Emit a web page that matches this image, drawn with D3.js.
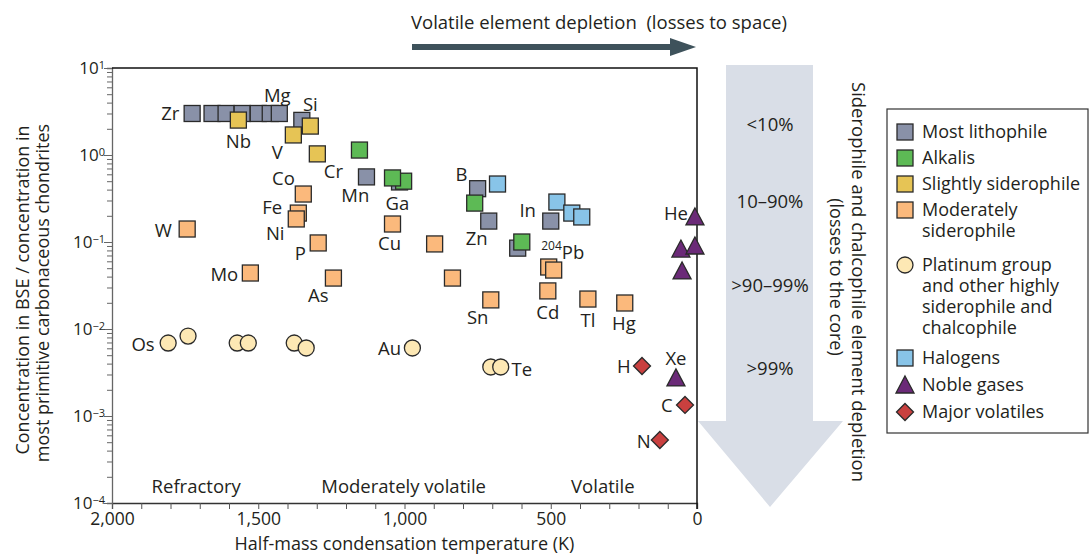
<!DOCTYPE html>
<html><head><meta charset="utf-8">
<script src="https://cdn.jsdelivr.net/npm/d3@7"></script>
<style>
body{margin:0;background:#fff}
svg{display:block}
text{font-family:"Open Sans",sans-serif;fill:#231f20}
</style>
</head><body>
<svg id="chart" width="1089" height="555"></svg>
<script>
// ---- data: [condensation temperature (K), concentration ratio] ----
const mostLithophile = [[1726,3.0],[1658,3.0],[1610,3.0],[1555,3.0],[1500,3.0],[1459,3.0],[1428,3.0],
  [1351,2.5],[1130,0.56],[1017,0.49],[750,0.41],[712,0.174],[613,0.085],[500,0.174]];
const alkalis = [[1154,1.14],[1003,0.50],[1041,0.545],[760,0.28],[599,0.10]];
const slightlySiderophile = [[1568,2.52],[1380,1.70],[1322,2.15],[1298,1.03]];
const moderatelySiderophile = [[1743,0.141],[1527,0.044],[1346,0.356],[1363,0.215],[1370,0.184],[1295,0.0975],
  [1243,0.0385],[1041,0.161],[897,0.095],[836,0.0385],[705,0.0216],[507,0.0516],[490,0.0476],[510,0.0274],
  [373,0.0221],[247,0.0199]];
const platinumGroup = [[1808,0.0069],[1740,0.0083],[1572,0.0069],[1534,0.0069],[1377,0.0069],[1336,0.00605],
  [973,0.00605],[705,0.00366],[671,0.00366]];
const halogens = [[682,0.464],[479,0.288],[428,0.215],[394,0.194]];
const nobleGases = [[7,0.194],[55,0.083],[7,0.090],[51,0.0465],[72,0.00274]];
const majorVolatiles = [[188,0.00376],[41,0.00134],[127,0.00053]];

// element labels: [text, T, C]
const elementLabels = [["Zr",1801,3.04],["Mg",1435,4.9],["Si",1322,3.96],["Nb",1568,1.45],["V",1435,1.11],
  ["Cr",1243,0.655],["Co",1414,0.545],["Fe",1452,0.259],["Ni",1442,0.130],["P",1356,0.0767],["W",1825,0.141],
  ["Mn",1168,0.347],["Mo",1616,0.0429],["As",1295,0.0252],["Os",1894,0.0069],["Au",1051,0.00621],
  ["Ga",1024,0.281],["Cu",1051,0.0975],["B",805,0.605],["Zn",753,0.114],["In",579,0.239],["204Pb",459,0.0832],
  ["Sn",750,0.0141],["Cd",510,0.0161],["Tl",373,0.0130],["Hg",250,0.0120],["Te",599,0.00356],
  ["H",250,0.00376],["Xe",72,0.00476],["C",103,0.00134],["N",182,0.000516],["He",72,0.221]];

const regionLabels = [["Refractory",1712],["Moderately volatile",1003],["Volatile",322]];
const xTickLabels = [2000,1500,1000,500,0];
const yDecades = [1,0,-1,-2,-3,-4];
const depletionLevels = ["<10%","10\u201390%",">90\u201399%",">99%"];

const legendEntries = [
  {lines:["Most lithophile"], color:"#8991a8", shape:"square"},
  {lines:["Alkalis"], color:"#5dba55", shape:"square"},
  {lines:["Slightly siderophile"], color:"#e6c455", shape:"square"},
  {lines:["Moderately","siderophile"], color:"#fbb97c", shape:"square"},
  {lines:["Platinum group","and other highly","siderophile and","chalcophile"], color:"#fde8b4", shape:"circle"},
  {lines:["Halogens"], color:"#88c4e8", shape:"square"},
  {lines:["Noble gases"], color:"#6b2a78", shape:"triangle"},
  {lines:["Major volatiles"], color:"#c9403f", shape:"diamond"}
];
const seriesData = [mostLithophile, alkalis, slightlySiderophile, moderatelySiderophile,
  platinumGroup, halogens, nobleGases, majorVolatiles];

// ---- layout ----
const svg = d3.select("#chart");
const L = 112, R = 697, T = 68, B = 503;
const x = d3.scaleLinear().domain([2000,0]).range([L,R]);
const y = d3.scaleLog().domain([1e-4,10]).range([B,T]);

// big depletion arrow
svg.append("polygon")
  .attr("points", [[726,65],[813,65],[813,421],[843,421],[770,507],[698,421],[726,421]].map(p=>p.join(",")).join(" "))
  .attr("fill","#d9dee7");
const lvY = [123,200,284,367];
svg.selectAll("text.lv").data(depletionLevels).join("text")
  .attr("x",770).attr("y",(d,i)=>lvY[i]).attr("text-anchor","middle").attr("dominant-baseline","central")
  .style("font-size","18.5px").text(d=>d);

// right vertical titles
svg.append("text").attr("transform","translate(859,282) rotate(90)")
  .attr("text-anchor","middle").attr("dominant-baseline","central").style("font-size","18.5px")
  .text("Siderophile and chalcophile element depletion");
svg.append("text").attr("transform","translate(837,277) rotate(90)")
  .attr("text-anchor","middle").attr("dominant-baseline","central").style("font-size","18px")
  .text("(losses to the core)");

// top arrow
svg.append("text").attr("x",411).attr("y",29).style("font-size","18.5px")
  .text("Volatile element depletion\u00a0\u00a0(losses to space)");
svg.append("line").attr("x1",412).attr("x2",676).attr("y1",47).attr("y2",47)
  .attr("stroke","#3e525b").attr("stroke-width",6);
svg.append("polygon").attr("points","670,38 696,47 670,56").attr("fill","#3e525b");

// x axis
const xAxis = d3.axisBottom(x).tickValues(d3.range(0,2001,100)).tickSize(6)
  .tickFormat(d => xTickLabels.includes(d) ? d3.format(",")(d) : "");
const gx = svg.append("g").attr("transform",`translate(0,${B})`).call(xAxis);
gx.select(".domain").attr("stroke","#333").attr("stroke-width",1.3);
gx.selectAll(".tick line").attr("stroke","#555");
gx.selectAll(".tick text").attr("y",8).attr("dy","0.8em").style("font-size","17.5px")
  .style("font-family","'Open Sans',sans-serif").attr("fill","#231f20");

// y axis
const yTicks = y.ticks();
const yAxis = d3.axisLeft(y).tickValues(yTicks).tickSize(5).tickFormat("");
const gy = svg.append("g").attr("transform",`translate(${L},0)`).call(yAxis);
gy.select(".domain").attr("stroke","#666").attr("stroke-width",1.3);
gy.selectAll(".tick line").attr("stroke","#666")
  .attr("x2", d => Math.abs(Math.log10(d) - Math.round(Math.log10(d))) < 1e-9 ? -8 : -5);
const yl = svg.selectAll("text.ytl").data(yDecades).join("text")
  .attr("x",105).attr("y",d=>y(Math.pow(10,d))+6).attr("text-anchor","end").style("font-size","17px");
yl.append("tspan").text("10");
yl.append("tspan").attr("dy","-0.5em").style("font-size","11px").text(d=>d<0?"\u2212"+(-d):d);

// frame (top / right)
svg.append("path").attr("d",`M${L},${T}H${R}V${B+6}`).attr("fill","none").attr("stroke","#111").attr("stroke-width",1.5);

// axis titles
svg.append("text").attr("x",(L+R)/2).attr("y",550).attr("text-anchor","middle").style("font-size","18px")
  .text("Half-mass condensation temperature (K)");
const yTitle = svg.append("text").attr("transform","translate(0,0) rotate(-90)").attr("text-anchor","middle")
  .style("font-size","18px");
yTitle.append("tspan").attr("x",-290).attr("y",29).text("Concentration in BSE / concentration in");
yTitle.append("tspan").attr("x",-293).attr("y",49).text("most primitive carbonaceous chondrites");

// region labels
svg.selectAll("text.rg").data(regionLabels).join("text")
  .attr("x",d=>x(d[1])).attr("y",485).attr("text-anchor","middle").attr("dominant-baseline","central")
  .style("font-size","18.5px").text(d=>d[0]);

// symbols
const S = 16;
function drawShape(g, shape, color){
  let el;
  if(shape==="square") el = g.append("rect").attr("x",-S/2).attr("y",-S/2).attr("width",S).attr("height",S);
  else if(shape==="circle") el = g.append("circle").attr("r",S/2);
  else if(shape==="triangle") el = g.append("path").attr("d",`M0,${-S/2-1}L${S/2+1},${S/2}L${-S/2-1},${S/2}Z`);
  else el = g.append("path").attr("d",`M0,-8.5L8.5,0L0,8.5L-8.5,0Z`);
  el.attr("fill",color).attr("stroke","#2a2a2a").attr("stroke-width",1.3);
}
seriesData.forEach((arr,i)=>{
  const e = legendEntries[i];
  svg.append("g").selectAll("g").data(arr).join("g")
    .attr("transform",d=>`translate(${x(d[0])},${y(d[1])})`)
    .each(function(){ drawShape(d3.select(this), e.shape, e.color); });
});

// element labels
const el = svg.selectAll("text.el").data(elementLabels).join("text")
  .attr("x",d=>x(d[1])).attr("y",d=>y(d[2])).attr("text-anchor","middle").attr("dominant-baseline","central")
  .style("font-size","18.5px");
el.each(function(d){
  const t = d3.select(this);
  if(d[0].startsWith("204")){
    t.append("tspan").style("font-size","12px").attr("dy","-0.35em").text("204");
    t.append("tspan").attr("dy","0.35em").text("Pb");
  } else t.text(d[0]);
});

// legend
svg.append("rect").attr("x",887).attr("y",109).attr("width",201).attr("height",324)
  .attr("fill","#fff").attr("stroke","#333").attr("stroke-width",1.2);
const rowY = [132,158,184,210,265,358,385,412];
legendEntries.forEach((e,i)=>{
  const g = svg.append("g").attr("transform",`translate(905,${rowY[i]})`);
  drawShape(g, e.shape, e.color);
  const t = svg.append("text").style("font-size","18px");
  e.lines.forEach((ln,j)=>{
    t.append("tspan").attr("x",922).attr("y",rowY[i]+j*21+6).text(ln);
  });
});
</script>
</body></html>
